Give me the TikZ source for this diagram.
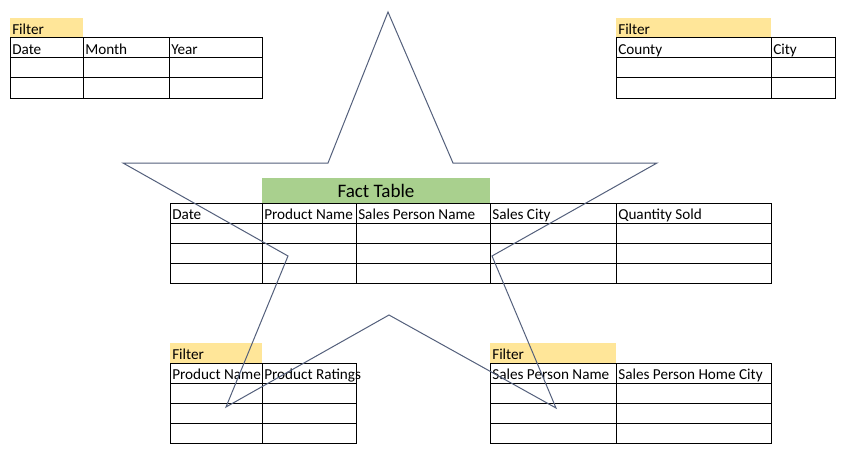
\documentclass[tikz,border=0pt]{standalone}
\usepackage{fontspec}
\setmainfont{Carlito}
\definecolor{filtergold}{RGB}{255,230,153}
\definecolor{factgreen}{RGB}{169,208,142}
\definecolor{starline}{RGB}{84,96,124}

\begin{document}
\begin{tikzpicture}[x=0.75pt,y=-0.75pt,
  txt/.style={anchor=base west,inner sep=0pt,font=\fontsize{11.4}{13}\selectfont},
  gridline/.style={line width=0.75pt,black}]
\useasboundingbox[fill=white] (0,0) rectangle (849,460);
% date filter
\fill[filtergold] (10,18) rectangle (83,38);
\node[txt] (datefilter) at (12,34.5) {Filter};
\draw[gridline] (10,38) rectangle (262,98);
\foreach \y in {58,78} \draw[gridline] (10,\y) -- (262,\y);
\foreach \x in {83,169} \draw[gridline] (\x,38) -- (\x,98);
\node[txt] (ddate) at (12,54.5) {Date};
\node[txt] (dmonth) at (85,54.5) {Month};
\node[txt] (dyear) at (171,54.5) {Year};
% location filter
\fill[filtergold] (616,18) rectangle (771,38);
\node[txt] (locfilter) at (618,34.5) {Filter};
\draw[gridline] (616,38) rectangle (835,98);
\foreach \y in {58,78} \draw[gridline] (616,\y) -- (835,\y);
\draw[gridline] (771,38) -- (771,98);
\node[txt] (lcounty) at (618,54.5) {County};
\node[txt] (lcity) at (773,54.5) {City};
% fact table
\fill[factgreen] (262,178) rectangle (490,203);
\node[anchor=base,inner sep=0pt,font=\fontsize{14.3}{16}\selectfont] (facthead) at (376,197) {Fact Table};
\draw[gridline] (170,203) rectangle (771,283);
\foreach \y in {223,243,263} \draw[gridline] (170,\y) -- (771,\y);
\foreach \x in {262,356,490,616} \draw[gridline] (\x,203) -- (\x,283);
\node[txt] (fdate) at (172,219.5) {Date};
\node[txt] (fprod) at (264,219.5) {Product Name};
\node[txt] (fsperson) at (358,219.5) {Sales Person Name};
\node[txt] (fscity) at (492,219.5) {Sales City};
\node[txt] (fqty) at (618,219.5) {Quantity Sold};
% product filter
\fill[filtergold] (170,343) rectangle (262,363);
\node[txt] (prodfilter) at (172,359.5) {Filter};
\draw[gridline] (170,363) rectangle (356,443);
\foreach \y in {383,403,423} \draw[gridline] (170,\y) -- (356,\y);
\draw[gridline] (262,363) -- (262,443);
\node[txt] (pname) at (172,379.5) {Product Name};
\node[txt] (prating) at (264,379.5) {Product Ratings};
% sales person filter
\fill[filtergold] (490,343) rectangle (616,363);
\node[txt] (spfilter) at (492,359.5) {Filter};
\draw[gridline] (490,363) rectangle (771,443);
\foreach \y in {383,403,423} \draw[gridline] (490,\y) -- (771,\y);
\draw[gridline] (616,363) -- (616,443);
\node[txt] (spname) at (492,379.5) {Sales Person Name};
\node[txt] (sphome) at (618,379.5) {Sales Person Home City};
% star
\draw[starline,line width=0.75pt,line join=miter]
  (388,12) -- (453,163) -- (657,163) -- (492,256) -- (556,408) -- (389,315)
  -- (226,407) -- (288,256) -- (123,163) -- (328,163) -- cycle;
\end{tikzpicture}
\end{document}
